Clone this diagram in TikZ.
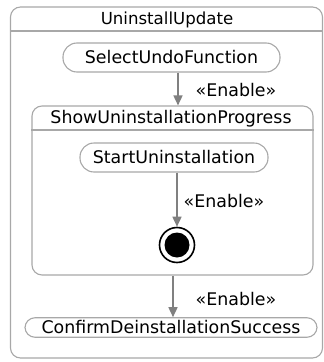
\documentclass[tikz,border=0pt]{standalone}
\usepackage{fontspec}
\setmainfont{DejaVu Sans}
\usetikzlibrary{arrows.meta}
\definecolor{boxgray}{HTML}{A8A8A8}
\definecolor{arrgray}{HTML}{808080}
\tikzset{
  container/.style={draw=boxgray, line width=1.1pt, rounded corners=10pt, inner sep=0pt},
  pill/.style={draw=boxgray, line width=1.1pt, rounded corners=#1, inner sep=0pt, font=\fontsize{17.4}{20}\selectfont},
  pill/.default=14pt,
  titletext/.style={inner sep=0pt, font=\fontsize{16.6}{20}\selectfont},
  lbl/.style={inner sep=0pt, font=\fontsize{17.4}{20}\selectfont},
  arr/.style={draw=arrgray, line width=1.5pt, -{Triangle[length=10pt,width=9pt]}, arrgray},
}
\begin{document}
\begin{tikzpicture}[x=1pt,y=-1pt]
\useasboundingbox (0,0) rectangle (324,362);
% outer container
\node[container, minimum width=312pt, minimum height=351pt] (outer) at (166.5,182.5) {};
\node[titletext] (outert) at (167,19.5) {UninstallUpdate};
\draw[boxgray, line width=1.1pt] (outer.west |- 0,31) -- (outer.east |- 0,31);
% select
\node[pill, minimum width=217pt, minimum height=29pt] (sel) at (171.5,57.5) {SelectUndoFunction};
% sub container
\node[container, minimum width=281pt, minimum height=169pt] (sup) at (172.5,190.5) {};
\node[titletext, font=\fontsize{17.4}{20}\selectfont] (supt) at (171,118.5) {ShowUninstallationProgress};
\draw[boxgray, line width=1.1pt] (sup.west |- 0,130) -- (sup.east |- 0,130);
% start
\node[pill, minimum width=188pt, minimum height=29pt] (start) at (174,157.5) {StartUninstallation};
% final
\node[circle, draw=black, line width=1.6pt, minimum size=35pt, inner sep=0pt] (fin) at (177,245) {};
\node[circle, fill=black, minimum size=25pt, inner sep=0pt] (fininner) at (fin.center) {};
% confirm
\node[pill=10pt, minimum width=292pt, minimum height=19.5pt] (conf) at (171,327.5) {ConfirmDeinstallationSuccess};
% arrows
\coordinate (x1) at (178,0);
\coordinate (x3) at (173,0);
\draw[arr] (x1 |- sel.south) -- (x1 |- sup.north);
\draw[arr] (fin.north |- start.south) -- (fin.north);
\draw[arr] (x3 |- sup.south) -- (x3 |- conf.north);
% labels
\node[lbl] (l1) at (236,90) {«Enable»};
\node[lbl] (l2) at (224,201) {«Enable»};
\node[lbl] (l3) at (236,299) {«Enable»};
\end{tikzpicture}
\end{document}
